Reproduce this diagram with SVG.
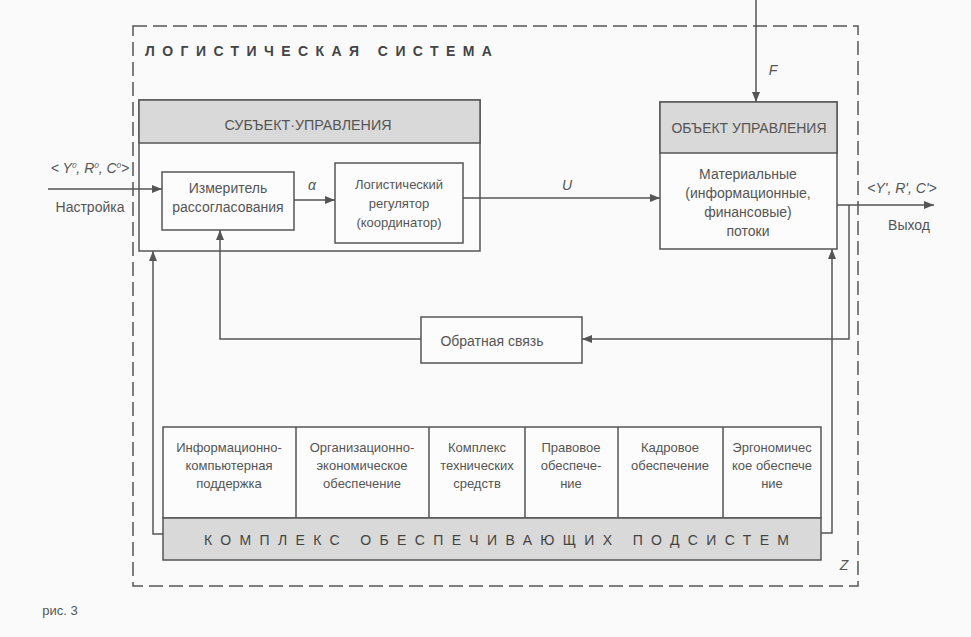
<svg xmlns="http://www.w3.org/2000/svg" width="971" height="637" viewBox="0 0 971 637">
<defs>
<marker id="ah" viewBox="0 0 10 8" refX="10" refY="4" markerWidth="10" markerHeight="8" markerUnits="userSpaceOnUse" orient="auto">
<path d="M0,0 L10,4 L0,8 Z" fill="#555"/>
</marker>
</defs>
<style>
.bx{fill:#fcfcfc;stroke:#555;stroke-width:1.5}
.hd{fill:#d9d9d9;stroke:#555;stroke-width:1.5}
.ln{fill:none;stroke:#555;stroke-width:1.5}
.ar{fill:none;stroke:#555;stroke-width:1.5;marker-end:url(#ah)}
.t{font-family:"Liberation Sans",Arial,sans-serif;font-size:14px;fill:#555;text-anchor:middle}
.c{font-family:"Liberation Sans",Arial,sans-serif;font-size:13px;fill:#555;text-anchor:middle}
.i{font-family:"Liberation Sans",Arial,sans-serif;font-size:14px;fill:#555;font-style:italic;text-anchor:middle}
.sp{font-family:"Liberation Sans",Arial,sans-serif;font-size:14px;fill:#444;font-weight:bold}
</style>
<rect x="0" y="0" width="971" height="637" fill="#fafafa"/>

<g id="system">
<rect x="133" y="26" width="725" height="560" fill="none" stroke="#555" stroke-width="1.5" stroke-dasharray="14,6"/>
<text class="sp" x="145" y="56" textLength="347" lengthAdjust="spacing">ЛОГИСТИЧЕСКАЯ   СИСТЕМА</text>
</g>

<g id="subject">
<rect class="bx" x="139" y="100" width="341" height="151"/>
<rect class="hd" x="139" y="100" width="341" height="43"/>
<text class="t" x="308" y="130" textLength="167" lengthAdjust="spacingAndGlyphs">СУБЪЕКТ·УПРАВЛЕНИЯ</text>
</g>

<g id="measurer">
<rect class="bx" x="162" y="172" width="132" height="58"/>
<text class="t" x="228" y="193">Измеритель</text>
<text class="t" x="228" y="212">рассогласования</text>
</g>

<g id="regulator">
<rect class="bx" x="335" y="163" width="128" height="80"/>
<text class="c" x="399" y="189">Логистический</text>
<text class="c" x="399" y="208">регулятор</text>
<text class="c" x="399" y="227">(координатор)</text>
</g>

<g id="object">
<rect class="bx" x="660" y="102" width="177" height="147"/>
<rect class="hd" x="660" y="102" width="177" height="51"/>
<text class="t" x="749" y="133" textLength="155" lengthAdjust="spacingAndGlyphs">ОБЪЕКТ УПРАВЛЕНИЯ</text>
<text class="t" x="748" y="179">Материальные</text>
<text class="t" x="748" y="198">(информационные,</text>
<text class="t" x="748" y="217">финансовые)</text>
<text class="t" x="748" y="236">потоки</text>
</g>

<g id="feedback">
<rect class="bx" x="421" y="317" width="161" height="46"/>
<text class="t" x="492" y="346">Обратная связь</text>
</g>

<g id="support">
<rect class="bx" x="163" y="427" width="658" height="91"/>
<line class="ln" x1="296" y1="427" x2="296" y2="518"/>
<line class="ln" x1="429" y1="427" x2="429" y2="518"/>
<line class="ln" x1="525" y1="427" x2="525" y2="518"/>
<line class="ln" x1="618" y1="427" x2="618" y2="518"/>
<line class="ln" x1="723" y1="427" x2="723" y2="518"/>
<rect class="hd" x="163" y="518" width="658" height="42"/>
<text class="sp" x="204" y="545" style="font-weight:normal" textLength="585" lengthAdjust="spacing">КОМПЛЕКС  ОБЕСПЕЧИВАЮЩИХ  ПОДСИСТЕМ</text>
<text class="c" x="229" y="452">Информационно-</text>
<text class="c" x="229" y="470">компьютерная</text>
<text class="c" x="229" y="488">поддержка</text>
<text class="c" x="362" y="452">Организационно-</text>
<text class="c" x="362" y="470">экономическое</text>
<text class="c" x="362" y="488">обеспечение</text>
<text class="c" x="477" y="452">Комплекс</text>
<text class="c" x="477" y="470">технических</text>
<text class="c" x="477" y="488">средств</text>
<text class="c" x="571" y="452">Правовое</text>
<text class="c" x="571" y="470">обеспече-</text>
<text class="c" x="571" y="488">ние</text>
<text class="c" x="670" y="452">Кадровое</text>
<text class="c" x="670" y="470">обеспечение</text>
<text class="c" x="772" y="452">Эргономичес</text>
<text class="c" x="772" y="470">кое обеспече</text>
<text class="c" x="772" y="488">ние</text>
</g>

<g id="connectors">
<line class="ar" x1="48" y1="189" x2="162" y2="189"/>
<line class="ar" x1="294" y1="200" x2="335" y2="200"/>
<line class="ar" x1="463" y1="198" x2="660" y2="198"/>
<line class="ar" x1="756" y1="0" x2="756" y2="102"/>
<line class="ar" x1="837" y1="205" x2="934" y2="205"/>
<polyline class="ar" points="849,205 849,339 582,339"/>
<polyline class="ar" points="421,339 220,339 220,230"/>
<polyline class="ar" points="163,534 153,534 153,251"/>
<polyline class="ar" points="821,533 832,533 832,249"/>
</g>

<g id="labels">
<text class="i" x="90" y="173" font-size="13">&lt; Y<tspan font-size="8" dy="-5">0</tspan><tspan dy="5">, R</tspan><tspan font-size="8" dy="-5">0</tspan><tspan dy="5">, C</tspan><tspan font-size="8" dy="-5">0</tspan><tspan dy="5">&gt;</tspan></text>
<text class="t" x="90" y="212">Настройка</text>
<text class="i" x="312" y="190">α</text>
<text class="i" x="567" y="190">U</text>
<text class="i" x="773" y="75">F</text>
<text class="i" x="902" y="193">&lt;Y', R', C'&gt;</text>
<text class="t" x="909" y="230">Выход</text>
<text class="i" x="844" y="570">Z</text>
<text class="t" x="60" y="615" style="font-size:13px">рис. 3</text>
</g>
</svg>
